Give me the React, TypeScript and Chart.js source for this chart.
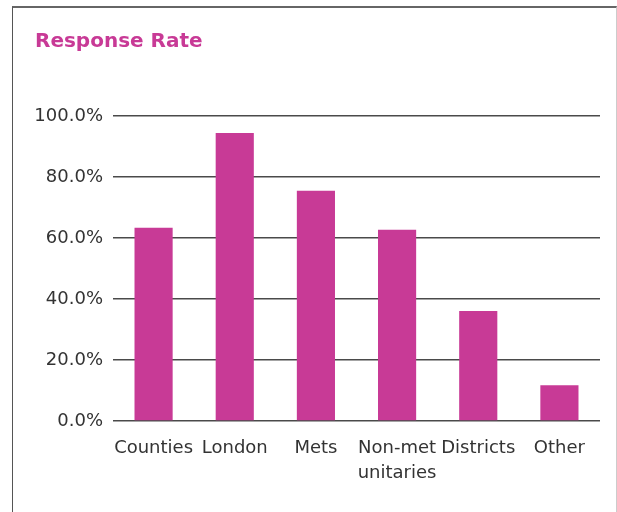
import React, { useEffect, useRef } from "react";
import { Chart, registerables } from "chart.js";

Chart.register(...registerables);

const categories: (string | string[])[] = [
  "Counties",
  "London",
  "Mets",
  ["Non-met", "unitaries"],
  "Districts",
  "Other",
];
const responseRate: number[] = [63.4, 94.4, 75.5, 62.7, 36.1, 11.7];
const yTicks: number[] = [0, 20, 40, 60, 80, 100];

const MAGENTA = "#C83A96";
const FONT = "'DejaVu Sans', sans-serif";

export default function App() {
  const ref = useRef<HTMLCanvasElement | null>(null);

  useEffect(() => {
    document.body.style.margin = "0";
    const canvas = ref.current;
    if (!canvas) return;
    const chart = new Chart(canvas, {
      type: "bar",
      data: {
        labels: categories,
        datasets: [
          {
            label: "Response Rate",
            data: responseRate,
            backgroundColor: MAGENTA,
            borderWidth: 0,
            barPercentage: 0.47,
            categoryPercentage: 1,
          },
        ],
      },
      options: {
        responsive: false,
        animation: false,
        devicePixelRatio: 1,
        layout: { padding: { left: 0, right: 17, top: 116, bottom: 0 } },
        plugins: {
          legend: { display: false },
          title: { display: false },
          tooltip: { enabled: false },
        },
        scales: {
          x: {
            grid: { display: false },
            border: { display: false },
            ticks: {
              color: "#333",
              font: { family: FONT, size: 18, lineHeight: 25 / 18 },
              padding: 7,
              maxRotation: 0,
              minRotation: 0,
              autoSkip: false,
            },
            afterFit: (s: any) => {
              s.height = 91;
            },
          },
          y: {
            min: 0,
            max: 100,
            afterBuildTicks: (s: any) => {
              s.ticks = yTicks.map((v) => ({ value: v }));
            },
            grid: {
              color: "#4a4a4a",
              lineWidth: 1.5,
              drawTicks: false,
            },
            border: { display: false },
            ticks: {
              color: "#333",
              font: { family: FONT, size: 18 },
              padding: 10,
              callback: (v: any) => Number(v).toFixed(1) + "%",
            },
            afterFit: (s: any) => {
              s.width = 113;
            },
          },
        },
      },
    });
    return () => chart.destroy();
  }, []);

  return (
    <div style={{ position: "absolute", left: 0, top: 0, width: 617, height: 512, overflow: "hidden", background: "#fff" }}>
      <div
        style={{
          position: "absolute",
          left: 12,
          top: 6,
          width: 605,
          height: 520,
          borderLeft: "1px solid #555",
          borderTop: "2px solid #666",
          borderRight: "1px solid #ccc",
          boxSizing: "border-box",
        }}
      />
      <canvas ref={ref} width={617} height={512} style={{ position: "absolute", left: 0, top: 0 }} />
      <div
        style={{
          position: "absolute",
          left: 35,
          top: 28,
          fontFamily: FONT,
          fontWeight: "bold",
          fontSize: 20,
          lineHeight: "24px",
          color: MAGENTA,
          whiteSpace: "nowrap",
        }}
      >
        Response Rate
      </div>
    </div>
  );
}
